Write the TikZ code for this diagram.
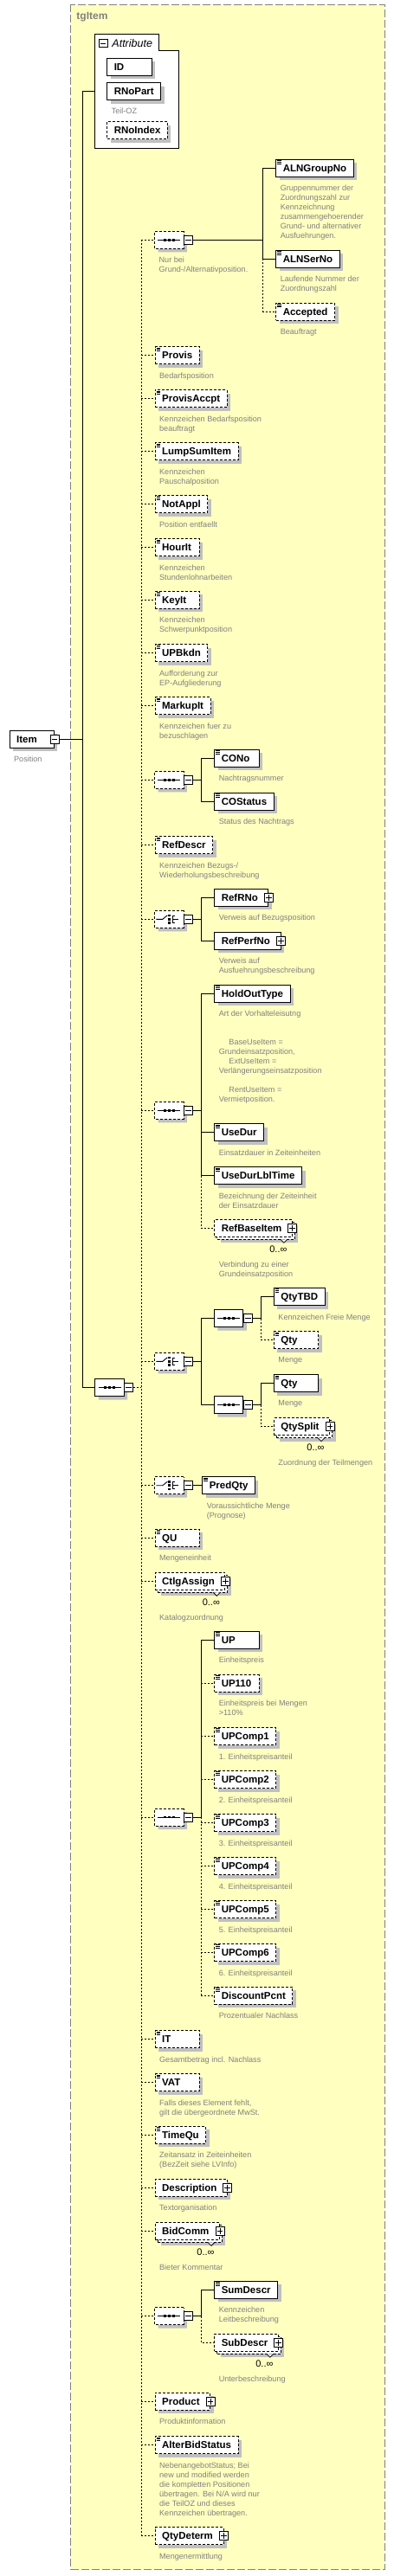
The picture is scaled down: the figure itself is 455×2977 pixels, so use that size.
\documentclass[tikz,border=0pt]{standalone}
\usepackage{fontspec}
\setmainfont{Liberation Sans}
\usepackage{tikz}
\usetikzlibrary{calc, positioning, shapes.misc, shadows}

\definecolor{tgyellow}{RGB}{255,255,192}
\definecolor{tgshade}{RGB}{192,192,192}
\definecolor{tggray}{RGB}{128,128,128}

% name of a box, at least 35.3pt wide, flush left
\newcommand\minname[1]{\setbox0=\hbox{#1}\ifdim\wd0<35.3pt\hbox to 35.3pt{\box0\hfil}\else\box0\fi}

\begin{document}
\begin{tikzpicture}[x=1pt, y=-1pt, line width=0.9pt,
    every node/.style={inner sep=0pt},
    elem/.style={draw, fill=white, anchor=west, minimum height=20pt, inner xsep=8pt,
      text height=8.3pt, text depth=0pt, font=\fontsize{11.5}{13}\selectfont\bfseries,
      general shadow={fill=tgshade, shadow xshift=4pt, shadow yshift=-4pt}},
    opt/.style={dash pattern=on 3pt off 2pt},
    many/.style={general shadow={fill=tgshade, shadow xshift=7pt, shadow yshift=-7pt},
      general shadow={draw, fill=white, shadow xshift=3pt, shadow yshift=-3pt}},
    comp/.style={chamfered rectangle, chamfered rectangle xsep=5pt, draw, fill=white,
      minimum width=33.3pt, minimum height=20pt,
      general shadow={fill=tgshade, shadow xshift=4pt, shadow yshift=-4pt}},
    pm/.style={draw, fill=white, line width=0.8pt, minimum size=10pt},
    desc/.style={anchor=north west, align=left, text=tggray, font=\fontsize{9.1}{11}\selectfont},
    occ/.style={anchor=east, font=\fontsize{11}{13}\selectfont},
    optline/.style={dash pattern=on 2pt off 2pt}]

  \useasboundingbox (0,0) rectangle (455,2977);

  % type frame
  \fill[tgyellow] (81.7,5.3) rectangle (444.3,2969.3);
  \draw[tggray, line width=1.3pt, dash pattern=on 9pt off 3pt] (81.7,5.3) rectangle (444.3,2969.3);
  \node[anchor=west, text=tggray, font=\fontsize{12}{14}\selectfont\bfseries] (tg) at (88,20) {tgItem};

  % attributes
  \draw[fill=white] (109.7,58.3) -- (109.7,39.3) -- (183,39.3) -- (183,58.3) -- (206.7,58.3)
    -- (206.7,171.3) -- (109.7,171.3) -- cycle;
  \node[pm, minimum size=9.5pt] (attr-m) at (119.2,50) {};
  \draw[line width=0.8pt] ($(attr-m.west)+(2,0)$) -- ($(attr-m.east)+(-2,0)$);
  \node[anchor=west, font=\fontsize{12.5}{14}\selectfont\itshape] (attr-t) at (129,50) {Attribute};
  \coordinate (attr) at (109.7,105.5);
  \node[elem] (ID) at (123.3,77.3) {\minname{ID}};
  \node[elem] (RNoPart) at (123.3,105.5) {\minname{RNoPart}};
  \node[elem, opt] (RNoIndex) at (123.3,150.5) {\minname{RNoIndex}};

  % root and compositors
  \node[elem] (Item) at (10.7,854.3) {\minname{Item}};
  \node[comp] (mseq) at (126.5,1603.5) {};
  \foreach \cp/\yy in {s1/277.3, s2/901.3, c1/1062.3, s3/1283.3, c2/1573.3, c3/1716.7, s4/2100, s5/2676.7}
    \node[comp, opt] (\cp) at (195.3,\yy) {};
  \node[comp] (sA) at (264.1,1523.5) {};
  \node[comp] (sB) at (264.1,1623.5) {};

  % elements
  \foreach \nm/\lbl/\xx/\yy in {ALNGroupNo/ALNGroupNo/318.3/194.3, ALNSerNo/ALNSerNo/318.3/299.3,
      CONo/CONo/247.3/876.3, COStatus/COStatus/247.3/926.3, HoldOutType/HoldOutType/247.3/1148.3,
      UseDur/UseDur/247.3/1308.7, UseDurLblTime/UseDurLblTime/247.3/1358.7,
      QtyTBD/QtyTBD/316/1498.5, Qty2/Qty/316/1598.7, PredQty/PredQty/233.3/1716.7,
      UP/UP/247.3/1895.3, SumDescr/SumDescr/247.3/2646.3}
    \node[elem] (\nm) at (\xx,\yy) {\minname{\lbl}};
  \foreach \nm/\lbl/\xx/\yy in {Accepted/Accepted/318.3/360, Provis/Provis/178.7/410.7,
      ProvisAccpt/ProvisAccpt/178.7/460.7, LumpSumItem/LumpSumItem/178.7/521.7,
      NotAppl/NotAppl/178.7/582.5, HourIt/HourIt/178.7/632.7, KeyIt/KeyIt/178.7/693.3,
      UPBkdn/UPBkdn/178.7/754.5, MarkupIt/MarkupIt/178.7/815.7, RefDescr/RefDescr/178.7/976.7,
      Qty1/Qty/316/1548.7, QU/QU/178.7/1777.3, UP110/UP110/247.3/1945.3,
      DiscountPcnt/DiscountPcnt/247.3/2306.3, IT/IT/178.7/2356.7, VAT/VAT/178.7/2406.7,
      TimeQu/TimeQu/178.7/2467.3, AlterBidStatus/AlterBidStatus/178.7/2825.7}
    \node[elem, opt] (\nm) at (\xx,\yy) {\minname{\lbl}};
  \foreach \i in {1,...,6}
    \node[elem, opt] (UPComp\i) at (247.3,{1956.5+50*\i}) {\minname{UPComp\i}};
  \node[elem] (RefRNo) at (247.3,1037.3) {\minname{RefRNo\hspace{4pt}}};
  \node[elem] (RefPerfNo) at (247.3,1087.3) {\minname{RefPerfNo\hspace{4pt}}};
  \foreach \nm/\xx/\yy in {Description/178.7/2528.3, Product/178.7/2775.3, QtyDeterm/178.7/2930.7}
    \node[elem, opt] (\nm) at (\xx,\yy) {\minname{\nm\hspace{4pt}}};
  \foreach \nm/\xx/\yy in {RefBaseItem/247.3/1419.3, QtySplit/316/1648.7, CtlgAssign/178.7/1827.3,
      BidComm/178.7/2578.3, SubDescr/247.3/2707.3}
    \node[elem, opt, many] (\nm) at (\xx,\yy) {\minname{\nm\hspace{4pt}}};

  % marks inside the boxes
  \foreach \nm in {ALNGroupNo, ALNSerNo, Accepted, Provis, ProvisAccpt, LumpSumItem, NotAppl, HourIt,
      KeyIt, UPBkdn, MarkupIt, CONo, COStatus, RefDescr, HoldOutType, UseDur, UseDurLblTime, QtyTBD,
      Qty1, Qty2, PredQty, QU, UP, UP110, UPComp1, UPComp2, UPComp3, UPComp4, UPComp5, UPComp6,
      DiscountPcnt, IT, VAT, TimeQu, SumDescr, AlterBidStatus}
    \foreach \d in {1.7,3.4,5.1}
      \draw[line width=0.6pt] ($(\nm.north west)+(1.8,\d)$) -- ++(4.6,0);
  \foreach \nm in {RefRNo, RefPerfNo, RefBaseItem, QtySplit, CtlgAssign, Description, BidComm,
      SubDescr, Product, QtyDeterm} {
    \node[pm] (\nm-p) at (\nm.east) {};
    \draw[line width=0.8pt] ($(\nm-p.west)+(2,0)$) -- ($(\nm-p.east)+(-2,0)$);
    \draw[line width=0.8pt] ($(\nm-p.north)+(0,2)$) -- ($(\nm-p.south)+(0,-2)$);
  }
  \foreach \nm in {RefBaseItem, QtySplit, CtlgAssign, BidComm, SubDescr} {
    \draw[fill=white, line width=0.8pt] ($(\nm.south east)+(-14,2.5)$) -- ++(4,4) -- ++(4,-4);
    \node[occ] (\nm-o) at ($(\nm.south east)+(-6,14)$) {0..∞};
  }
  \foreach \cp in {mseq, s1, s2, c1, s3, c2, c3, s4, s5, sA, sB} {
    \node[pm] (\cp-m) at ($(\cp.east)+(5,0)$) {};
    \draw[line width=0.8pt] ($(\cp-m.west)+(2,0)$) -- ($(\cp-m.east)+(-2,0)$);
  }
  \node[pm] (Item-m) at (Item.east) {};
  \draw[line width=0.8pt] ($(Item-m.west)+(2,0)$) -- ($(Item-m.east)+(-2,0)$);
  \foreach \cp in {mseq, s1, s2, s3, s4, s5, sA, sB} {
    \draw ($(\cp.center)+(-13,0)$) -- ($(\cp.center)+(13,0)$);
    \foreach \d in {-5,0,5}
      \fill ($(\cp.center)+(\d-1.4,-1.4)$) rectangle ++(2.8,2.8);
  }
  \foreach \cp in {c1, c2, c3} {
    \draw ($(\cp.center)+(-15,0)$) -- ($(\cp.center)+(-7.5,0)$) -- ($(\cp.center)+(-2,-4.5)$);
    \foreach \d in {-4.2,0,4.2}
      \fill ($(\cp.center)+(-1.3,\d-1.3)$) rectangle ++(2.6,2.6);
    \draw ($(\cp.center)+(6.7,-4.2)$) -- ($(\cp.center)+(3.7,-4.2)$) -- ($(\cp.center)+(3.7,4.2)$)
      -- ($(\cp.center)+(6.7,4.2)$);
    \draw ($(\cp.center)+(3.7,0)$) -- ($(\cp.center)+(11,0)$);
  }

  % annotations
  \node[desc] (s1-d) at ($(s1.west |- s1.south)+(5,9)$) {Nur bei\\Grund-/Alternativposition.};
  \foreach \nm/\txt in {RNoPart/{Teil-OZ}, Item/{Position},
      ALNGroupNo/{Gruppennummer der\\Zuordnungszahl zur\\Kennzeichnung\\zusammengehoerender\\Grund- und alternativer\\Ausfuehrungen.},
      ALNSerNo/{Laufende Nummer der\\Zuordnungszahl}, Accepted/{Beauftragt},
      Provis/{Bedarfsposition}, ProvisAccpt/{Kennzeichen Bedarfsposition\\beauftragt},
      LumpSumItem/{Kennzeichen\\Pauschalposition}, NotAppl/{Position entfaellt},
      HourIt/{Kennzeichen\\Stundenlohnarbeiten}, KeyIt/{Kennzeichen\\Schwerpunktposition},
      UPBkdn/{Aufforderung zur\\EP-Aufgliederung}, MarkupIt/{Kennzeichen fuer zu\\bezuschlagen},
      CONo/{Nachtragsnummer}, COStatus/{Status des Nachtrags},
      RefDescr/{Kennzeichen Bezugs-/\\Wiederholungsbeschreibung},
      RefRNo/{Verweis auf Bezugsposition}, RefPerfNo/{Verweis auf\\Ausfuehrungsbeschreibung},
      HoldOutType/{Art der Vorhalteleisutng\\[22pt]\hspace*{11.7pt}BaseUseItem =\\Grundeinsatzposition,\\\hspace*{11.7pt}ExtUseItem =\\Verlängerungseinsatzposition\\[11pt]\hspace*{11.7pt}RentUseItem =\\Vermietposition.},
      UseDur/{Einsatzdauer in Zeiteinheiten}, UseDurLblTime/{Bezeichnung der Zeiteinheit\\der Einsatzdauer},
      QtyTBD/{Kennzeichen Freie Menge}, Qty1/{Menge}, Qty2/{Menge},
      PredQty/{Voraussichtliche Menge\\(Prognose)}, QU/{Mengeneinheit}, UP/{Einheitspreis},
      UP110/{Einheitspreis bei Mengen\\>110\%}, DiscountPcnt/{Prozentualer Nachlass},
      IT/{Gesamtbetrag incl. Nachlass}, VAT/{Falls dieses Element fehlt,\\gilt die übergeordnete MwSt.},
      TimeQu/{Zeitansatz in Zeiteinheiten\\(BezZeit siehe LVInfo)}, Description/{Textorganisation},
      SumDescr/{Kennzeichen\\Leitbeschreibung}, Product/{Produktinformation},
      AlterBidStatus/{NebenangebotStatus; Bei\\new und modified werden\\die kompletten Positionen\\übertragen. Bei N/A wird nur\\die TeilOZ und dieses\\Kennzeichen übertragen.},
      QtyDeterm/{Mengenermittlung}}
    \node[desc] (\nm-d) at ($(\nm.south west)+(5,9)$) {\txt};
  \foreach \i in {1,...,6}
    \node[desc] (UPComp\i-d) at ($(UPComp\i.south west)+(5,9)$) {\i. Einheitspreisanteil};
  \foreach \nm/\txt in {RefBaseItem/{Verbindung zu einer\\Grundeinsatzposition},
      QtySplit/{Zuordnung der Teilmengen}, CtlgAssign/{Katalogzuordnung},
      BidComm/{Bieter Kommentar}, SubDescr/{Unterbeschreibung}}
    \node[desc] (\nm-d) at ($(\nm.south west)+(5,27.2)$) {\txt};

  % connectors
  \coordinate (bar) at (95,0);
  \coordinate (spine) at (163.3,0);
  \coordinate (aln) at (303.3,0);
  \coordinate (mid) at (232.3,0);
  \coordinate (qty) at (301.7,0);

  \draw (attr) -- (bar |- attr) -- (bar |- mseq.west) -- (mseq.west);
  \draw (Item-m.east) -- (bar |- Item-m.east);
  \draw[optline] (mseq-m.east) -- (spine |- mseq-m.east);
  \draw[optline] (spine |- s1.west) -- (spine |- QtyDeterm.west);
  \foreach \nm in {s1, Provis, ProvisAccpt, LumpSumItem, NotAppl, HourIt, KeyIt, UPBkdn, MarkupIt,
      s2, RefDescr, c1, s3, c2, c3, QU, CtlgAssign, s4, IT, VAT, TimeQu, Description, BidComm, s5,
      Product, AlterBidStatus, QtyDeterm}
    \draw[optline] (spine |- \nm.west) -- (\nm.west);

  \draw (s1-m.east) -- (aln |- s1-m.east);
  \draw (ALNGroupNo.west) -- (aln |- ALNGroupNo.west) -- (aln |- ALNSerNo.west) -- (ALNSerNo.west);
  \draw[optline] (aln |- ALNSerNo.west) -- (aln |- Accepted.west) -- (Accepted.west);

  \draw (s2-m.east) -- (mid |- s2-m.east);
  \draw (CONo.west) -- (mid |- CONo.west) -- (mid |- COStatus.west) -- (COStatus.west);

  \draw (c1-m.east) -- (mid |- c1-m.east);
  \draw (RefRNo.west) -- (mid |- RefRNo.west) -- (mid |- RefPerfNo.west) -- (RefPerfNo.west);

  \draw (s3-m.east) -- (mid |- s3-m.east);
  \draw (HoldOutType.west) -- (mid |- HoldOutType.west) -- (mid |- UseDurLblTime.west) -- (UseDurLblTime.west);
  \draw (mid |- UseDur.west) -- (UseDur.west);
  \draw[optline] (mid |- UseDurLblTime.west) -- (mid |- RefBaseItem.west) -- (RefBaseItem.west);

  \draw (c2-m.east) -- (mid |- c2-m.east);
  \draw (sA.west) -- (mid |- sA.west) -- (mid |- sB.west) -- (sB.west);
  \draw (sA-m.east) -- (qty |- sA-m.east);
  \draw (QtyTBD.west) -- (qty |- QtyTBD.west) -- (qty |- sA-m.east);
  \draw[optline] (qty |- sA-m.east) -- (qty |- Qty1.west) -- (Qty1.west);
  \draw (sB-m.east) -- (qty |- sB-m.east);
  \draw (Qty2.west) -- (qty |- Qty2.west) -- (qty |- sB-m.east);
  \draw[optline] (qty |- sB-m.east) -- (qty |- QtySplit.west) -- (QtySplit.west);

  \draw (c3-m.east) -- (PredQty.west);

  \draw (s4-m.east) -- (mid |- s4-m.east);
  \draw (UP.west) -- (mid |- UP.west) -- (mid |- s4-m.east);
  \draw[optline] (mid |- s4-m.east) -- (mid |- DiscountPcnt.west);
  \foreach \nm in {UP110, UPComp1, UPComp2, UPComp3, UPComp4, UPComp5, UPComp6, DiscountPcnt}
    \draw[optline] (mid |- \nm.west) -- (\nm.west);

  \draw (s5-m.east) -- (mid |- s5-m.east);
  \draw (SumDescr.west) -- (mid |- SumDescr.west) -- (mid |- s5-m.east);
  \draw[optline] (mid |- s5-m.east) -- (mid |- SubDescr.west) -- (SubDescr.west);
\end{tikzpicture}
\end{document}
